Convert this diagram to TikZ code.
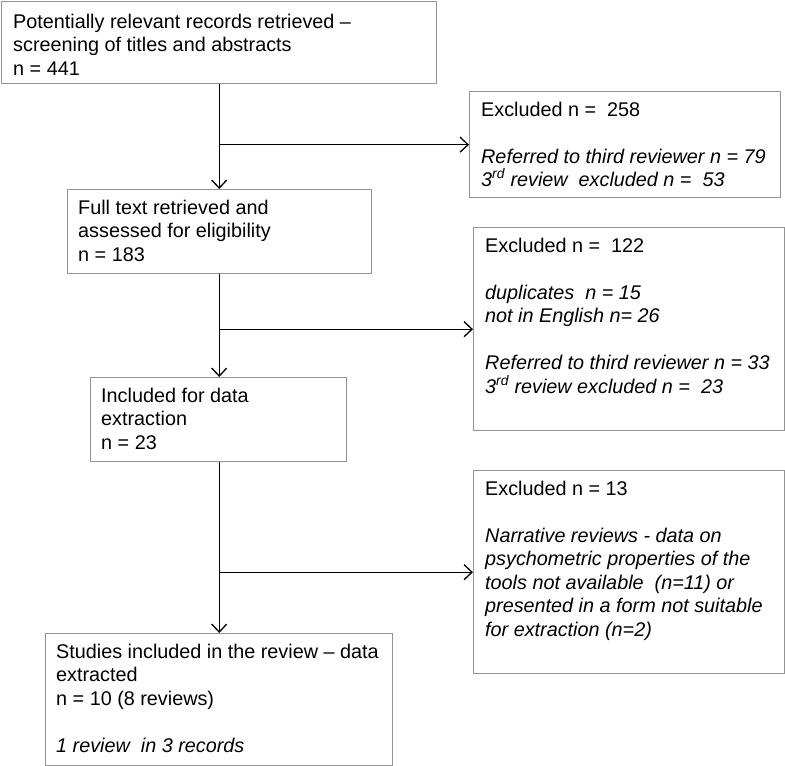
\documentclass[tikz,border=0pt]{standalone}
\usepackage{fontspec}
\setmainfont{Liberation Sans}
\usetikzlibrary{arrows.meta}
\begin{document}
\begin{tikzpicture}[x=1pt,y=-1pt,
  box/.style={draw=black!42, line width=1.4pt, rectangle, inner sep=0pt, anchor=north west},
  txt/.style={anchor=base west, inner sep=0pt, font=\fontsize{19.8}{23.5}\selectfont},
  arr/.style={line width=1.3pt, -{Straight Barb[length=8pt,width=15pt,line width=1.3pt]}}]
\useasboundingbox (0,0) rectangle (785,766);
% main boxes
\node[box, minimum width=435pt, minimum height=82pt] (b1) at (1,1) {};
\node[box, minimum width=304pt, minimum height=84pt] (b2) at (67,189) {};
\node[box, minimum width=256pt, minimum height=84pt] (b3) at (90,377) {};
\node[box, minimum width=347pt, minimum height=132pt] (b4) at (45,633) {};
% exclusion boxes
\node[box, minimum width=311pt, minimum height=106pt] (e1) at (469,91) {};
\node[box, minimum width=311pt, minimum height=203pt] (e2) at (473,227) {};
\node[box, minimum width=311pt, minimum height=203pt] (e3) at (473,470) {};
% texts
\node[txt] (t1) at ([shift={(12,27)}]b1.north west) {\parbox[t]{420pt}{Potentially relevant records retrieved –\\screening of titles and abstracts\\n = 441}};
\node[txt] (t2) at ([shift={(11,25)}]b2.north west) {\parbox[t]{290pt}{Full text retrieved and\\assessed for eligibility\\n = 183}};
\node[txt] (t3) at ([shift={(11,25)}]b3.north west) {\parbox[t]{240pt}{Included for data\\extraction\\n = 23}};
\node[txt] (t4) at ([shift={(11,25)}]b4.north west) {\parbox[t]{335pt}{Studies included in the review – data\\extracted\\n = 10 (8 reviews)\\[23.5pt]\textit{1 review\ \ in 3 records}}};
\node[txt] (u1) at ([shift={(12,25)}]e1.north west) {\parbox[t]{300pt}{Excluded n = \ 258\\[23.5pt]\textit{Referred to third reviewer n = 79}\\\textit{3\textsuperscript{rd} review\ \ excluded n = \ 53}}};
\node[txt] (u2) at ([shift={(12,25)}]e2.north west) {\parbox[t]{300pt}{Excluded n = \ 122\\[23.5pt]\textit{duplicates\ \ n = 15}\\\textit{not in English n= 26}\\[23.5pt]\textit{Referred to third reviewer n = 33}\\\textit{3\textsuperscript{rd} review excluded n = \ 23}}};
\node[txt] (u3) at ([shift={(12,25)}]e3.north west) {\parbox[t]{300pt}{Excluded n = 13\\[23.5pt]\textit{Narrative reviews - data on}\\\textit{psychometric properties of the}\\\textit{tools not available\ \ (n=11) or}\\\textit{presented in a form not suitable}\\\textit{for extraction (n=2)}}};
% connectors
\draw[arr] (b1.south) -- (b2.north -| b1.south);
\draw[arr] (b2.south -| b1.south) -- (b3.north -| b1.south);
\draw[arr] (b3.south -| b1.south) -- (b4.north -| b1.south);
\draw[arr] (e1.west -| b1.south) -- (e1.west);
\draw[arr] (e2.west -| b1.south) -- (e2.west);
\draw[arr] (e3.west -| b1.south) -- (e3.west);
\end{tikzpicture}
\end{document}
